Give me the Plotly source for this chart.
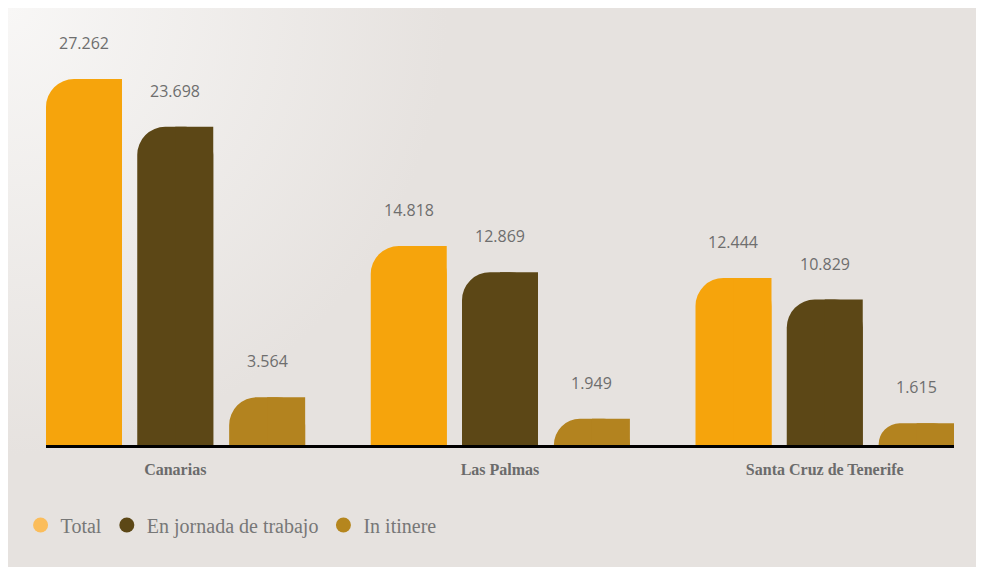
import base64
import plotly.graph_objects as go

categories = ["Canarias", "Las Palmas", "Santa Cruz de Tenerife"]
series_names = ["Total", "En jornada de trabajo", "In itinere"]
total = [27262, 14818, 12444]
jornada = [23698, 12869, 10829]
itinere = [3564, 1949, 1615]

series_values = [total, jornada, itinere]
bar_colors = ["#f6a40c", "#5c4716", "#b3831f"]
legend_colors = ["#fbbd5b", "#5c4716", "#b5861e"]
offsets = [-0.398, -0.117, 0.166]
bw = 0.234

fig = go.Figure()
annotations = []
for name, vals, col, off in zip(series_names, series_values, bar_colors, offsets):
    # main bar with rounded top corners
    fig.add_trace(go.Bar(
        x=categories, y=vals, name=name, offset=off, width=bw,
        marker=dict(color=col, line=dict(width=0), cornerradius=28),
        showlegend=False, hoverinfo="skip",
    ))
    # square right half so only the top-left corner looks rounded
    fig.add_trace(go.Bar(
        x=categories, y=vals, offset=off + bw / 2, width=bw / 2,
        marker=dict(color=col, line=dict(width=0)),
        showlegend=False, hoverinfo="skip",
    ))
    for i, v in enumerate(vals):
        annotations.append(dict(
            x=i + off + bw / 2, y=v, xref="x", yref="y",
            text=f"{v:,}".replace(",", "."), showarrow=False,
            yshift=36, yanchor="middle",
            font=dict(family="Open Sans", size=16, color="#6e6e6e"),
        ))

for name, col in zip(series_names, legend_colors):
    fig.add_trace(go.Scatter(
        x=[None], y=[None], mode="markers", name=name,
        marker=dict(symbol="circle", size=15, color=col),
    ))

W, H = 976, 559
L, T, B = 38, 32, 437
R = 946
pw, ph = R - L, B - T
ymax = 30168

svg = f"""<svg xmlns='http://www.w3.org/2000/svg' width='{W}' height='{H}' viewBox='0 0 {W} {H}' preserveAspectRatio='none'>
<defs><radialGradient id='g' cx='0' cy='0' r='1' gradientUnits='objectBoundingBox' gradientTransform='scale(0.45,0.8)'>
<stop offset='0' stop-color='#f8f7f6'/><stop offset='1' stop-color='#e6e2df'/></radialGradient></defs>
<rect width='{W}' height='{H}' fill='#e6e2df'/>
<rect width='{W}' height='{H}' fill='url(#g)'/></svg>"""
src = "data:image/svg+xml;base64," + base64.b64encode(svg.encode()).decode()

fig.update_layout(
    width=W, height=H,
    margin=dict(l=L, r=W - R, t=T, b=H - B),
    paper_bgcolor="#e6e2df", plot_bgcolor="rgba(0,0,0,0)",
    barmode="overlay",
    annotations=annotations,
    images=[dict(
        source=src, xref="paper", yref="paper",
        x=-L / pw, y=B / ph, sizex=W / pw, sizey=H / ph,
        xanchor="left", yanchor="top", sizing="stretch", layer="below",
    )],
    xaxis=dict(
        range=[-0.398, 2.398], showgrid=False, zeroline=False,
        showline=True, linecolor="black", linewidth=3,
        ticks="", ticklabelstandoff=8,
        tickfont=dict(family="Liberation Serif", size=16, color="#6b6b6b", weight="bold"),
    ),
    yaxis=dict(range=[0, ymax], visible=False),
    showlegend=True,
    legend=dict(
        orientation="h", x=-0.028, y=(B - 517) / ph, xanchor="left", yanchor="middle",
        font=dict(family="Liberation Serif", size=20, color="#777777"),
        bgcolor="rgba(0,0,0,0)", itemwidth=30, tracegroupgap=0,
    ),
)

fig.write_html("out.html")
